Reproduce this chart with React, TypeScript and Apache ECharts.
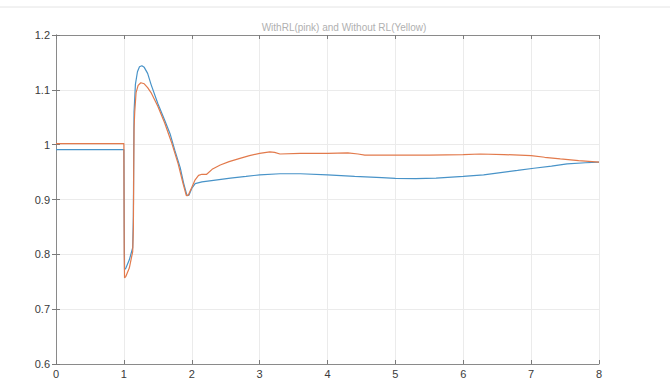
import React, { useEffect, useRef } from "react";
import * as echarts from "echarts";

const titleText = "WithRL(pink) and Without RL(Yellow)";
const xTicks = [0, 1, 2, 3, 4, 5, 6, 7, 8];
const yTicks = [0.6, 0.7, 0.8, 0.9, 1.0, 1.1, 1.2];

const withRL: [number, number][] = [
  [0, 1.002], [1.0, 1.002], [1.005, 0.8], [1.01, 0.757], [1.03, 0.76], [1.08, 0.775],
  [1.13, 0.805], [1.14, 0.85], [1.145, 0.95], [1.15, 1.03], [1.16, 1.06], [1.18, 1.095],
  [1.21, 1.108], [1.25, 1.113], [1.3, 1.111], [1.35, 1.104], [1.4, 1.095], [1.5, 1.07],
  [1.6, 1.04], [1.7, 1.005], [1.8, 0.965], [1.87, 0.93], [1.92, 0.907], [1.95, 0.908],
  [2.0, 0.922], [2.05, 0.936], [2.1, 0.944], [2.15, 0.946], [2.22, 0.946], [2.3, 0.955],
  [2.42, 0.963], [2.55, 0.969], [2.71, 0.975], [2.85, 0.98], [3.0, 0.984], [3.15, 0.987],
  [3.22, 0.986], [3.3, 0.983], [3.6, 0.984], [4.0, 0.984], [4.3, 0.985], [4.45, 0.983],
  [4.55, 0.981], [5.0, 0.981], [5.5, 0.981], [6.0, 0.982], [6.25, 0.983], [6.6, 0.982],
  [7.0, 0.98], [7.2, 0.977], [7.43, 0.974], [7.7, 0.971], [8.0, 0.968],
];

const withoutRL: [number, number][] = [
  [0, 0.991], [1.0, 0.991], [1.005, 0.85], [1.01, 0.772], [1.03, 0.775], [1.08, 0.79],
  [1.13, 0.812], [1.14, 0.87], [1.145, 0.98], [1.15, 1.06], [1.17, 1.11], [1.2, 1.133],
  [1.23, 1.142], [1.265, 1.144], [1.3, 1.141], [1.35, 1.13], [1.4, 1.11], [1.5, 1.075],
  [1.6, 1.045], [1.68, 1.02], [1.75, 0.99], [1.83, 0.958], [1.88, 0.93], [1.93, 0.907],
  [1.96, 0.908], [2.0, 0.92], [2.05, 0.929], [2.15, 0.932], [2.32, 0.935], [2.57, 0.939],
  [2.8, 0.942], [3.0, 0.945], [3.3, 0.947], [3.6, 0.947], [4.0, 0.945], [4.4, 0.942],
  [4.8, 0.94], [5.0, 0.9387], [5.3, 0.938], [5.6, 0.939], [6.0, 0.942], [6.3, 0.945],
  [6.55, 0.949], [6.8, 0.953], [7.04, 0.957], [7.3, 0.961], [7.53, 0.965], [7.8, 0.967],
  [8.0, 0.968],
];

export default function App() {
  const ref = useRef<HTMLDivElement>(null);
  useEffect(() => {
    if (!ref.current) return;
    const chart = echarts.init(ref.current, undefined, { renderer: "svg" });
    const frame = { show: true, lineStyle: { color: "#8a8a8a", width: 1 } };
    const ticks = { show: true, inside: true, length: 4, lineStyle: { color: "#7a7a7a" } };
    const labelStyle = { color: "#3a3a3a", fontSize: 11, fontFamily: "Liberation Sans" };
    chart.setOption({
      animation: false,
      backgroundColor: "#ffffff",
      graphic: [
        { type: "line", shape: { x1: 0, y1: 7, x2: 670, y2: 7 }, style: { stroke: "#e4e4e4", lineWidth: 1 } },
        {
          type: "text", x: 344, y: 27,
          style: { text: titleText, fill: "#b0b0b0", fontSize: 10, fontFamily: "Liberation Sans", align: "center", verticalAlign: "middle" },
        },
      ],
      grid: { left: 56, right: 71, top: 35, bottom: 17, containLabel: false },
      xAxis: [
        {
          type: "value", min: xTicks[0], max: xTicks[xTicks.length - 1], interval: 1, position: "bottom",
          axisLine: frame, axisTick: ticks,
          axisLabel: { ...labelStyle, margin: 4 },
          splitLine: { show: true, lineStyle: { color: "#ebebeb", width: 1 } },
        },
        {
          type: "value", min: xTicks[0], max: xTicks[xTicks.length - 1], interval: 1, position: "top",
          axisLine: frame, axisTick: ticks, axisLabel: { show: false }, splitLine: { show: false },
        },
      ],
      yAxis: [
        {
          type: "value", min: yTicks[0], max: yTicks[yTicks.length - 1], interval: 0.1, position: "left",
          axisLine: frame, axisTick: ticks,
          axisLabel: { ...labelStyle, margin: 6 },
          splitLine: { show: true, lineStyle: { color: "#ebebeb", width: 1 } },
        },
        {
          type: "value", min: yTicks[0], max: yTicks[yTicks.length - 1], interval: 0.1, position: "right",
          axisLine: frame, axisTick: ticks, axisLabel: { show: false }, splitLine: { show: false },
        },
      ],
      series: [
        {
          name: "Without RL", type: "line", data: withoutRL, showSymbol: false, symbol: "none",
          lineStyle: { color: "#4893c8", width: 1.2 }, xAxisIndex: 0, yAxisIndex: 0, smooth: false,
        },
        {
          name: "With RL", type: "line", data: withRL, showSymbol: false, symbol: "none",
          lineStyle: { color: "#e27a4c", width: 1.2 }, xAxisIndex: 0, yAxisIndex: 0, smooth: false,
        },
      ],
    });
    return () => chart.dispose();
  }, []);
  return <div ref={ref} style={{ position: "fixed", left: 0, top: 0, width: 670, height: 381 }} />;
}
